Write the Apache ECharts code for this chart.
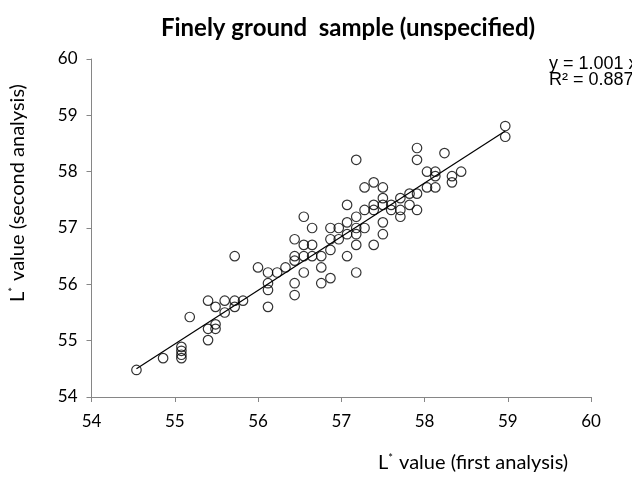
<!DOCTYPE html>
<html>
<head>
<meta charset="utf-8">
<script src="https://cdn.jsdelivr.net/npm/echarts@6/dist/echarts.min.js"></script>
<style>html,body{margin:0;padding:0;background:#fff;}#c{width:632px;height:479px;}</style>
</head>
<body>
<div id="c"></div>
<script>
// First analysis (x) values
var firstAnalysis = [
  54.54, 54.86, 55.08, 55.08, 55.08, 55.08, 55.18, 55.40, 55.40, 55.49,
  55.49, 55.40, 55.49, 55.60, 55.60, 55.72, 55.72, 55.82, 55.72, 56.12,
  56.00, 56.12, 56.12, 56.12, 56.23, 56.33, 56.44, 56.44, 56.44, 56.44,
  56.44, 56.55, 56.55, 56.55, 56.55, 56.65, 56.65, 56.65, 56.76, 56.76,
  56.76, 56.87, 56.87, 56.87, 56.87, 56.97, 56.97, 57.07, 57.07, 57.07,
  57.07, 57.18, 57.18, 57.18, 57.18, 57.18, 57.18, 57.28, 57.28, 57.28,
  57.39, 57.39, 57.39, 57.39, 57.50, 57.50, 57.50, 57.50, 57.50, 57.60,
  57.60, 57.71, 57.71, 57.71, 57.82, 57.82, 57.91, 57.91, 57.91, 57.91,
  58.03, 58.03, 58.13, 58.13, 58.13, 58.24, 58.33, 58.33, 58.44, 58.97,
  58.97
];
// Second analysis (y) values
var secondAnalysis = [
  54.48, 54.69, 54.89, 54.82, 54.75, 54.69, 55.42, 55.01, 55.21, 55.21,
  55.29, 55.71, 55.60, 55.71, 55.50, 55.71, 55.60, 55.71, 56.50, 55.60,
  56.30, 56.21, 56.02, 55.90, 56.21, 56.30, 56.42, 56.50, 56.80, 56.02,
  55.81, 57.20, 56.70, 56.50, 56.21, 57.00, 56.70, 56.50, 56.50, 56.30,
  56.02, 57.00, 56.80, 56.61, 56.11, 57.00, 56.80, 57.41, 57.10, 56.89,
  56.50, 58.21, 57.20, 57.00, 56.89, 56.70, 56.21, 57.72, 57.32, 57.00,
  57.81, 57.41, 57.32, 56.70, 57.72, 57.53, 57.41, 57.10, 56.89, 57.41,
  57.32, 57.53, 57.32, 57.20, 57.61, 57.41, 58.42, 58.21, 57.61, 57.32,
  58.00, 57.72, 58.00, 57.92, 57.72, 58.33, 57.92, 57.81, 58.00, 58.81,
  58.62
];
// Trend line end points
var trendX = [54.54, 58.97];
var trendY = [54.50, 58.72];
var axisTicks = [54, 55, 56, 57, 58, 59, 60];

var points = firstAnalysis.map(function (x, i) { return [x, secondAnalysis[i]]; });
var trend = trendX.map(function (x, i) { return [x, trendY[i]]; });

var chart = echarts.init(document.getElementById('c'), null, {renderer: 'canvas'});
var axisCommon = {
  type: 'value',
  min: axisTicks[0],
  max: axisTicks[axisTicks.length - 1],
  interval: 1,
  splitLine: {show: false},
  axisLine: {show: true, lineStyle: {color: '#868686', width: 1}},
  axisTick: {show: true, length: 5, lineStyle: {color: '#868686'}},
  axisLabel: {color: '#000', fontSize: 17, fontFamily: 'Lato'}
};
var richTitle = {
  n: {fontFamily: 'Lato', fontSize: 20, fill: '#000'},
  s: {fontFamily: 'Lato', fontSize: 11, fill: '#000', padding: [0, 1, 9, 0]}
};
chart.setOption({
  animation: false,
  backgroundColor: '#fff',
  title: {
    text: 'Finely ground  sample (unspecified)',
    left: 343, top: 11, textAlign: 'center',
    textStyle: {fontFamily: 'Lato', fontWeight: 'bold', fontSize: 24, color: '#000'}
  },
  grid: {left: 91.5, right: 41, top: 59, bottom: 82, containLabel: false},
  xAxis: Object.assign({}, axisCommon, {axisLabel: Object.assign({}, axisCommon.axisLabel, {margin: 16})}),
  yAxis: Object.assign({}, axisCommon, {axisLabel: Object.assign({}, axisCommon.axisLabel, {margin: 14})}),
  graphic: [
    {type: 'text', left: 378, top: 453, style: {
      text: '{n|L}{s|*}{n| value (first analysis)}', rich: richTitle
    }},
    {type: 'text', x: 8, y: 302, rotation: Math.PI / 2, style: {
      text: '{n|L}{s|*}{n| value (second analysis)}', rich: richTitle
    }},
    {type: 'text', x: 549, y: 55, style: {text: 'y = 1.001 x', fontFamily: 'Liberation Sans', fontSize: 18, fill: '#000'}},
    {type: 'text', x: 549, y: 71, style: {text: 'R\u00b2 = 0.887', fontFamily: 'Liberation Sans', fontSize: 18, fill: '#000'}}
  ],
  series: [
    {
      type: 'line', data: trend, symbol: 'none', silent: true,
      lineStyle: {color: '#000', width: 1.2}, z: 1
    },
    {
      type: 'scatter', data: points, symbol: 'circle', symbolSize: 9.5,
      itemStyle: {color: 'rgba(255,255,255,0)', borderColor: '#000', borderWidth: 1.2}, z: 2
    }
  ]
});
</script>
</body>
</html>
